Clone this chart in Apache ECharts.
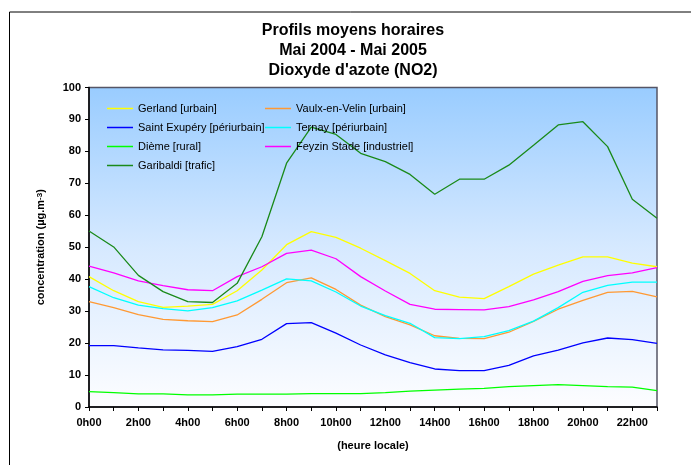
<!DOCTYPE html>
<html>
<head>
<meta charset="utf-8">
<script src="https://cdn.jsdelivr.net/npm/echarts@6/dist/echarts.min.js"></script>
<style>
  html, body { margin: 0; padding: 0; background: #fff; }
  #chart { width: 691px; height: 465px; }
</style>
</head>
<body>
<div id="chart"></div>
<script>
// hours 0h00 .. 23h00
const hours = [];
for (let h = 0; h < 24; h++) hours.push(h + "h00");

const gerland = [40.8, 36.4, 33.0, 31.2, 31.6, 32.1, 36.4, 42.9, 50.8, 54.9, 53.1, 49.7, 45.8, 41.8, 36.4, 34.4, 33.9, 37.7, 41.6, 44.4, 47.0, 47.0, 45.0, 43.9];
const vaulx = [33.0, 31.1, 28.9, 27.4, 27.0, 26.7, 28.8, 33.7, 38.9, 40.4, 36.8, 31.9, 28.3, 25.7, 22.3, 21.5, 21.4, 23.4, 26.8, 30.6, 33.4, 35.9, 36.2, 34.5];
const saintExupery = [19.2, 19.2, 18.5, 17.9, 17.7, 17.4, 18.9, 21.2, 26.1, 26.4, 23.1, 19.4, 16.3, 13.9, 11.9, 11.4, 11.4, 13.0, 16.0, 17.8, 20.1, 21.6, 21.1, 19.9];
const ternay = [37.7, 34.2, 31.9, 30.8, 30.1, 31.1, 33.2, 36.6, 40.1, 39.5, 36.0, 31.6, 28.6, 26.2, 21.7, 21.4, 22.0, 23.9, 26.9, 31.1, 35.9, 38.1, 39.1, 39.1];
const dieme = [4.8, 4.5, 4.1, 4.1, 3.8, 3.8, 4.0, 4.0, 4.0, 4.2, 4.2, 4.2, 4.5, 5.0, 5.3, 5.6, 5.8, 6.4, 6.7, 7.0, 6.7, 6.4, 6.2, 5.1];
const feyzin = [44.1, 42.0, 39.5, 38.0, 36.7, 36.4, 40.8, 43.9, 48.1, 49.1, 46.4, 40.8, 36.3, 32.1, 30.6, 30.5, 30.4, 31.4, 33.5, 36.1, 39.3, 41.1, 42.0, 43.6];
const garibaldi = [55.1, 50.1, 41.2, 36.1, 33.0, 32.7, 38.7, 53.3, 76.3, 87.6, 85.3, 79.4, 76.8, 72.8, 66.6, 71.3, 71.3, 75.7, 81.9, 88.3, 89.3, 81.5, 65.0, 59.1];

const seriesDefs = [
  { name: "Gerland [urbain]", data: gerland, color: "#ffff00" },
  { name: "Vaulx-en-Velin [urbain]", data: vaulx, color: "#ff9933" },
  { name: "Saint Exupéry [périurbain]", data: saintExupery, color: "#0000ff" },
  { name: "Ternay [périurbain]", data: ternay, color: "#00ffff" },
  { name: "Dième [rural]", data: dieme, color: "#00ff00" },
  { name: "Feyzin Stade [industriel]", data: feyzin, color: "#ff00ff" },
  { name: "Garibaldi [trafic]", data: garibaldi, color: "#1a8a1a" },
];

const font = "Liberation Sans, Arial, sans-serif";

const chart = echarts.init(document.getElementById("chart"));

const legendBase = {
  orient: "vertical",
  icon: "rect",
  itemWidth: 26,
  itemHeight: 1.5,
  itemGap: 8,
  textStyle: { fontFamily: font, fontSize: 11, color: "#000" },
};

chart.setOption({
  animation: false,
  title: {
    text: "Profils moyens horaires\nMai 2004 - Mai 2005\nDioxyde d'azote (NO2)",
    left: 348,
    textAlign: "center",
    top: 16,
    textStyle: { fontFamily: font, fontSize: 16, fontWeight: "bold", color: "#000", lineHeight: 20 },
  },
  graphic: [
    {
      type: "rect",
      left: 7,
      top: 9.5,
      shape: { width: 720, height: 480 },
      style: { fill: "none", stroke: "#000", lineWidth: 1 },
      silent: true,
    },
  ],
  legend: [
    Object.assign({}, legendBase, {
      left: 102,
      top: 98,
      data: [seriesDefs[0].name, seriesDefs[2].name, seriesDefs[4].name, seriesDefs[6].name],
    }),
    Object.assign({}, legendBase, {
      left: 260,
      top: 98,
      data: [seriesDefs[1].name, seriesDefs[3].name, seriesDefs[5].name],
    }),
  ],
  grid: {
    left: 89,
    right: 34,
    top: 87.5,
    bottom: 58,
    show: true,
    borderColor: "#555566",
    borderWidth: 1.5,
    backgroundColor: new echarts.graphic.LinearGradient(0, 0, 0, 1, [
      { offset: 0, color: "#99ccff" },
      { offset: 0.5, color: "#d6e9ff" },
      { offset: 1, color: "#fdfdff" },
    ]),
  },
  xAxis: {
    type: "category",
    data: hours,
    boundaryGap: false,
    name: "(heure locale)",
    nameLocation: "middle",
    nameGap: 33,
    nameTextStyle: { fontFamily: font, fontSize: 11, fontWeight: "bold", color: "#000" },
    axisLine: { lineStyle: { color: "#000", width: 1.5 } },
    axisTick: { interval: 0, length: 4, lineStyle: { color: "#000" } },
    axisLabel: { interval: 1, margin: 10, fontFamily: font, fontSize: 11, fontWeight: "bold", color: "#000" },
    splitLine: { show: false },
  },
  yAxis: {
    type: "value",
    min: 0,
    max: 100,
    interval: 10,
    name: "concentration (µg.m{sup|-3})",
    nameLocation: "middle",
    nameGap: 41,
    nameTextStyle: {
      fontFamily: font,
      fontSize: 11,
      fontWeight: "bold",
      color: "#000",
      rich: {
        sup: { fontFamily: font, fontSize: 8, fontWeight: "bold", color: "#000", verticalAlign: "top", lineHeight: 10, padding: [0, 0, 8, 0] },
      },
    },
    axisLine: { show: true, lineStyle: { color: "#000", width: 1.5 } },
    axisTick: { show: true, length: 4, lineStyle: { color: "#000" } },
    axisLabel: { margin: 8, fontFamily: font, fontSize: 11, fontWeight: "bold", color: "#000" },
    splitLine: { show: false },
  },
  series: seriesDefs.map((s) => ({
    name: s.name,
    type: "line",
    data: s.data,
    symbol: "none",
    color: s.color,
    lineStyle: { color: s.color, width: 1.3 },
  })),
});
</script>
</body>
</html>
